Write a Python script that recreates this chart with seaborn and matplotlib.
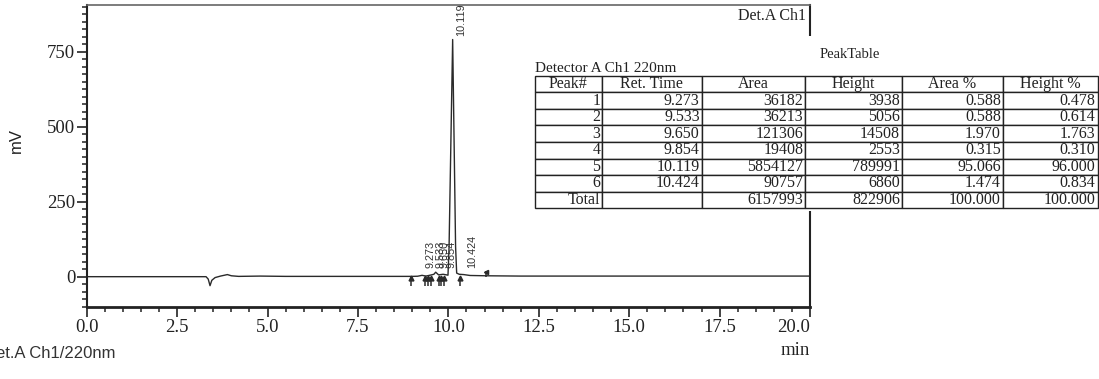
import matplotlib
matplotlib.use("Agg")
import matplotlib.pyplot as plt
from matplotlib.ticker import MultipleLocator
import seaborn as sns

# chromatogram trace (min, mV)
trace_time = [0.0, 3.30, 3.36, 3.41, 3.46, 3.55, 3.70, 3.89, 4.00, 4.20, 4.80, 5.50,
              9.00, 9.15, 9.273, 9.38, 9.533, 9.60, 9.650, 9.73, 9.854, 9.95,
              9.99, 10.02, 10.119, 10.20, 10.23, 10.30, 10.424, 10.60, 11.04, 12.0, 20.0]
trace_mv = [0, 0, -8, -30, -12, -3, 2, 7, 3, 1, 2, 1,
            1, 1.5, 4.5, 2, 6, 8, 15, 6, 8, 6,
            5, 100, 790, 100, 12, 8, 7, 4, 3, 2, 2]

# peak table
ret_time = [9.273, 9.533, 9.650, 9.854, 10.119, 10.424]
area = [36182, 36213, 121306, 19408, 5854127, 90757]
height = [3938, 5056, 14508, 2553, 789991, 6860]
area_pct = [0.588, 0.588, 1.970, 0.315, 95.066, 1.474]
height_pct = [0.478, 0.614, 1.763, 0.310, 96.000, 0.834]
area_total = 6157993
height_total = 822906

# integration start/end marks (min)
mark_down = [8.98, 9.35, 9.43, 9.51, 9.75, 9.80, 9.87, 10.32]
mark_up = [11.04]

x_ticks = [0.0, 2.5, 5.0, 7.5, 10.0, 12.5, 15.0, 17.5, 20.0]
y_ticks = [0, 250, 500, 750]
col_labels = ["Peak#", "Ret. Time", "Area", "Height", "Area %", "Height %"]

W, H = 1099, 379
sns.set_theme(style="ticks")
plt.rcParams["font.family"] = ["Liberation Serif", "DejaVu Serif"]
sans = ["Liberation Sans", "DejaVu Sans"]
ink = "#222222"

fig = plt.figure(figsize=(W / 100, H / 100), dpi=100)
ax = fig.add_axes([86.7 / W, 1 - 306.7 / H, (810 - 86.7) / W, (306.7 - 5) / H])

sns.lineplot(x=trace_time, y=trace_mv, ax=ax, color="#2a2a2a", linewidth=1.0)

# integration marks
ax.vlines(mark_down, -30, 0, color="#2a2a2a", linewidth=1.1)
ax.plot(mark_down, [-4] * len(mark_down), "^", color="#2a2a2a", markersize=3.5)
ax.vlines(mark_up, 0, 18, color="#2a2a2a", linewidth=1.1)
ax.plot(mark_up, [16], "<", color="#2a2a2a", markersize=3)

# peak labels
for rt, h in zip(ret_time, height):
    y = h / 1000 + 12 if h > 100000 else 30
    ax.text(rt + 0.1, y, f"{rt:.3f}", rotation=90, ha="left", va="bottom",
            fontsize=7.8, family=sans, color="#333333")

ax.set_xlim(0, 20)
ax.set_ylim(-100, 905)
ax.set_xticks(x_ticks)
ax.set_xticklabels([f"{t:.1f}" for t in x_ticks])
ax.get_xticklabels()[-1].set_ha("right")
ax.set_yticks(y_ticks)
ax.xaxis.set_minor_locator(MultipleLocator(0.5))
ax.yaxis.set_minor_locator(MultipleLocator(25))
ax.tick_params(which="major", length=7.2, width=1.2, labelsize=13.5, colors=ink)
ax.tick_params(axis="y", which="major", pad=1)
ax.tick_params(axis="x", which="major", pad=1.5)
ax.tick_params(which="minor", length=3.6, width=1.1, color=ink)

ax.spines["bottom"].set_linewidth(2.0)
ax.spines["left"].set_linewidth(1.5)
ax.spines["right"].set_linewidth(1.5)
ax.spines["top"].set_linewidth(1.2)
ax.spines["top"].set_color("#666666")
for s in ["bottom", "left", "right"]:
    ax.spines[s].set_color(ink)

ax.set_ylabel("mV", family=sans, fontsize=12, color=ink)
ax.yaxis.set_label_coords(-0.087, 0.552)
ax.set_xlabel("min", fontsize=13.5, color=ink, ha="right", va="center")
ax.xaxis.set_label_coords(1.0, -0.145)

ax.text(0.9945, 0.99, "Det.A Ch1", transform=ax.transAxes, ha="right", va="top",
        fontsize=11.5, color=ink)

fig.text(-16 / W, 1 - 358 / H, "Det.A Ch1/220nm", family=sans, fontsize=12,
         color="#333333", va="baseline", ha="left")

# peak table pasted over the right side
tx0, ty0, ty1 = 530, 36, 211
tw, th = W - tx0, ty1 - ty0
tax = fig.add_axes([tx0 / W, 1 - ty1 / H, tw / W, th / H], zorder=5)
tax.set_facecolor("white")
tax.set_xticks([])
tax.set_yticks([])
for s in tax.spines.values():
    s.set_visible(False)

rows = []
for i in range(len(ret_time)):
    rows.append([str(i + 1), f"{ret_time[i]:.3f}", str(area[i]), str(height[i]),
                 f"{area_pct[i]:.3f}", f"{height_pct[i]:.3f}"])
rows.append(["Total", "", str(area_total), str(height_total), "100.000", "100.000"])

col_w = [67, 100, 103.7, 96.4, 101.1, 94.6]
bx0 = (534.7 - tx0) / tw
bx1 = (1097.5 - tx0) / tw
by0 = (ty1 - 208.3) / th
by1 = (ty1 - 75.7) / th
tbl = tax.table(cellText=rows, colLabels=col_labels,
                colWidths=[w / sum(col_w) for w in col_w],
                cellLoc="right", colLoc="center",
                bbox=[bx0, by0, bx1 - bx0, by1 - by0])
tbl.auto_set_font_size(False)
tbl.set_fontsize(11.5)
for (r, c), cell in tbl.get_celld().items():
    cell.PAD = 0.02
    cell.set_linewidth(1.0)
    cell.set_edgecolor(ink)
    cell.get_text().set_color(ink)

tax.text((850 - tx0) / tw, (ty1 - 55) / th, "PeakTable", transform=tax.transAxes,
         ha="center", va="center", fontsize=10.5, color=ink)
tax.text(bx0, (ty1 - 71.7) / th, "Detector A Ch1 220nm", transform=tax.transAxes,
         ha="left", va="baseline", fontsize=11, color=ink)

fig.savefig("out.png", dpi=100, facecolor="white")
